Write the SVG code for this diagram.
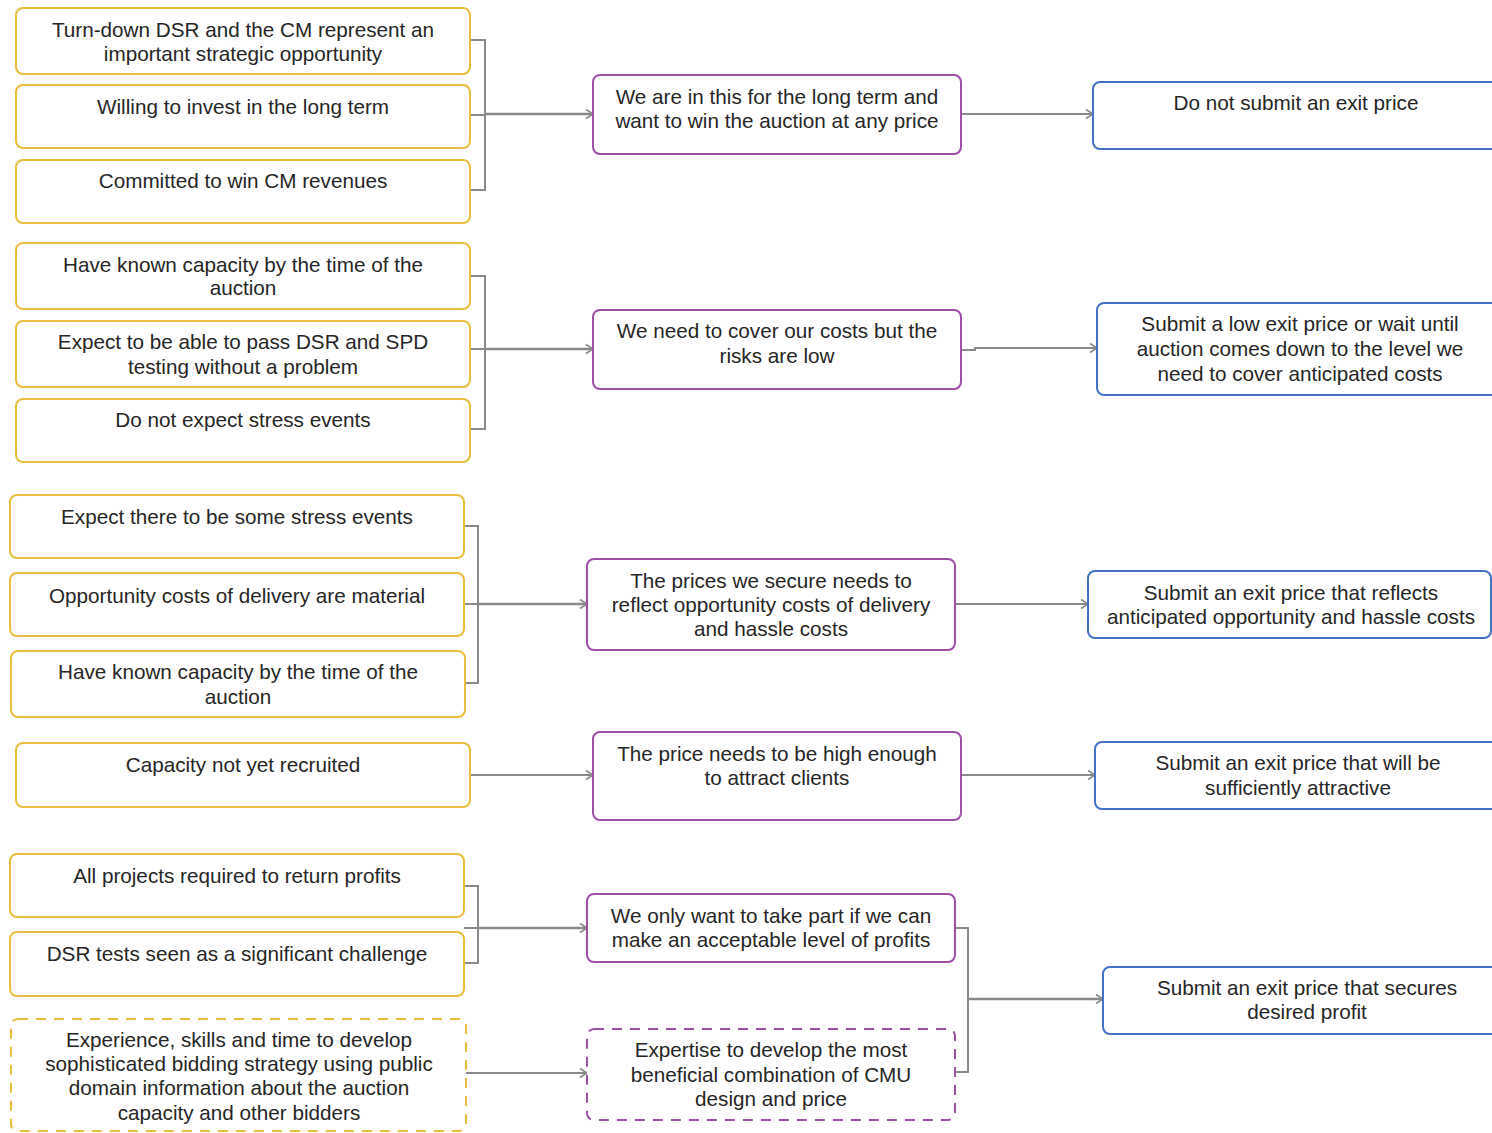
<svg xmlns="http://www.w3.org/2000/svg" width="1492" height="1133" viewBox="0 0 1492 1133">
  <defs>
    <marker id="arrow" markerUnits="userSpaceOnUse" markerWidth="12" markerHeight="12" refX="9" refY="6" orient="auto">
      <path d="M2,1.5 L9,6 L2,10.5" fill="none" stroke="#8a8a8a" stroke-width="1.6"/>
    </marker>
  </defs>
  <style>
    .cond { fill: #ffffff; stroke: #e8be3c; stroke-width: 2; }
    .cond-d { fill: #ffffff; stroke: #e8be3c; stroke-width: 2; stroke-dasharray: 10 8; }
    .mid { fill: #ffffff; stroke: #9e4fa8; stroke-width: 2; }
    .mid-d { fill: #ffffff; stroke: #9e4fa8; stroke-width: 2; stroke-dasharray: 10 8; }
    .out { fill: #ffffff; stroke: #4472c4; stroke-width: 2; }
    text { font-family: "Liberation Sans", Arial, sans-serif; font-size: 20.7px; fill: #262626; text-anchor: middle; }
    .conn path { fill: none; stroke: #8a8a8a; stroke-width: 2; }
    .conn .a { marker-end: url(#arrow); }
    .conn .t { stroke-width: 2.5; }
  </style>

  <rect width="1492" height="1133" fill="#ffffff"/>

  <!-- connectors -->
  <g id="connectors" class="conn">
    <!-- group 1 -->
    <path d="M470,40 H485 V190 H470 M470,115 H485"/>
    <path class="a t" d="M485,114 H593"/>
    <path class="a" d="M961,114 H1093"/>
    <!-- group 2 -->
    <path d="M470,276 H485 V429 H470 M470,349 H485"/>
    <path class="a t" d="M485,349 H593"/>
    <path class="a" d="M961,350 H975 V348 H1097"/>
    <!-- group 3 -->
    <path d="M464,526 H478 V683 H464 M464,604 H478"/>
    <path class="a t" d="M478,604 H587"/>
    <path class="a" d="M955,604 H1088"/>
    <!-- group 4 -->
    <path class="a" d="M470,775 H593"/>
    <path class="a" d="M961,775 H1095"/>
    <!-- group 5 -->
    <path d="M464,886 H478 V963 H464 M464,928 H478"/>
    <path class="a t" d="M478,928 H587"/>
    <path class="a" d="M466,1073 H587"/>
    <path d="M955,928 H968 V1072 H955"/>
    <path class="a t" d="M968,999 H1103"/>
  </g>

  <!-- group 1 -->
  <g id="c1">
    <rect class="cond" x="16" y="8" width="454" height="66" rx="7"/>
    <text x="243" y="37">Turn-down DSR and the CM represent an</text>
    <text x="243" y="61">important strategic opportunity</text>
  </g>
  <g id="c2">
    <rect class="cond" x="16" y="85" width="454" height="63" rx="7"/>
    <text x="243" y="114">Willing to invest in the long term</text>
  </g>
  <g id="c3">
    <rect class="cond" x="16" y="160" width="454" height="63" rx="7"/>
    <text x="243" y="188">Committed to win CM revenues</text>
  </g>
  <g id="m1">
    <rect class="mid" x="593" y="75" width="368" height="79" rx="7"/>
    <text x="777" y="104">We are in this for the long term and</text>
    <text x="777" y="128">want to win the auction at any price</text>
  </g>
  <g id="o1">
    <rect class="out" x="1093" y="82" width="410" height="67" rx="7"/>
    <text x="1296" y="110">Do not submit an exit price</text>
  </g>

  <!-- group 2 -->
  <g id="c4">
    <rect class="cond" x="16" y="243" width="454" height="66" rx="7"/>
    <text x="243" y="272">Have known capacity by the time of the</text>
    <text x="243" y="295">auction</text>
  </g>
  <g id="c5">
    <rect class="cond" x="16" y="321" width="454" height="66" rx="7"/>
    <text x="243" y="349">Expect to be able to pass DSR and SPD</text>
    <text x="243" y="374">testing without a problem</text>
  </g>
  <g id="c6">
    <rect class="cond" x="16" y="399" width="454" height="63" rx="7"/>
    <text x="243" y="427">Do not expect stress events</text>
  </g>
  <g id="m2">
    <rect class="mid" x="593" y="310" width="368" height="79" rx="7"/>
    <text x="777" y="338">We need to cover our costs but the</text>
    <text x="777" y="363">risks are low</text>
  </g>
  <g id="o2">
    <rect class="out" x="1097" y="303" width="410" height="92" rx="7"/>
    <text x="1300" y="331">Submit a low exit price or wait until</text>
    <text x="1300" y="356">auction comes down to the level we</text>
    <text x="1300" y="381">need to cover anticipated costs</text>
  </g>

  <!-- group 3 -->
  <g id="c7">
    <rect class="cond" x="10" y="495" width="454" height="63" rx="7"/>
    <text x="237" y="524">Expect there to be some stress events</text>
  </g>
  <g id="c8">
    <rect class="cond" x="10" y="573" width="454" height="63" rx="7"/>
    <text x="237" y="603">Opportunity costs of delivery are material</text>
  </g>
  <g id="c9">
    <rect class="cond" x="11" y="651" width="454" height="66" rx="7"/>
    <text x="238" y="679">Have known capacity by the time of the</text>
    <text x="238" y="704">auction</text>
  </g>
  <g id="m3">
    <rect class="mid" x="587" y="559" width="368" height="91" rx="7"/>
    <text x="771" y="588">The prices we secure needs to</text>
    <text x="771" y="612">reflect opportunity costs of delivery</text>
    <text x="771" y="636">and hassle costs</text>
  </g>
  <g id="o3">
    <rect class="out" x="1088" y="571" width="403" height="67" rx="7"/>
    <text x="1291" y="600">Submit an exit price that reflects</text>
    <text x="1291" y="624">anticipated opportunity and hassle costs</text>
  </g>

  <!-- group 4 -->
  <g id="c10">
    <rect class="cond" x="16" y="743" width="454" height="64" rx="7"/>
    <text x="243" y="772">Capacity not yet recruited</text>
  </g>
  <g id="m4">
    <rect class="mid" x="593" y="732" width="368" height="88" rx="7"/>
    <text x="777" y="761">The price needs to be high enough</text>
    <text x="777" y="785">to attract clients</text>
  </g>
  <g id="o4">
    <rect class="out" x="1095" y="742" width="410" height="67" rx="7"/>
    <text x="1298" y="770">Submit an exit price that will be</text>
    <text x="1298" y="795">sufficiently attractive</text>
  </g>

  <!-- group 5 -->
  <g id="c11">
    <rect class="cond" x="10" y="854" width="454" height="63" rx="7"/>
    <text x="237" y="883">All projects required to return profits</text>
  </g>
  <g id="c12">
    <rect class="cond" x="10" y="932" width="454" height="64" rx="7"/>
    <text x="237" y="961">DSR tests seen as a significant challenge</text>
  </g>
  <g id="c13">
    <rect class="cond-d" x="11" y="1019" width="455" height="112" rx="7"/>
    <text x="239" y="1047">Experience, skills and time to develop</text>
    <text x="239" y="1071">sophisticated bidding strategy using public</text>
    <text x="239" y="1095">domain information about the auction</text>
    <text x="239" y="1120">capacity and other bidders</text>
  </g>
  <g id="m5">
    <rect class="mid" x="587" y="894" width="368" height="68" rx="7"/>
    <text x="771" y="923">We only want to take part if we can</text>
    <text x="771" y="947">make an acceptable level of profits</text>
  </g>
  <g id="m6">
    <rect class="mid-d" x="587" y="1029" width="368" height="91" rx="7"/>
    <text x="771" y="1057">Expertise to develop the most</text>
    <text x="771" y="1082">beneficial combination of CMU</text>
    <text x="771" y="1106">design and price</text>
  </g>
  <g id="o5">
    <rect class="out" x="1103" y="967" width="410" height="67" rx="7"/>
    <text x="1307" y="995">Submit an exit price that secures</text>
    <text x="1307" y="1019">desired profit</text>
  </g>
</svg>
